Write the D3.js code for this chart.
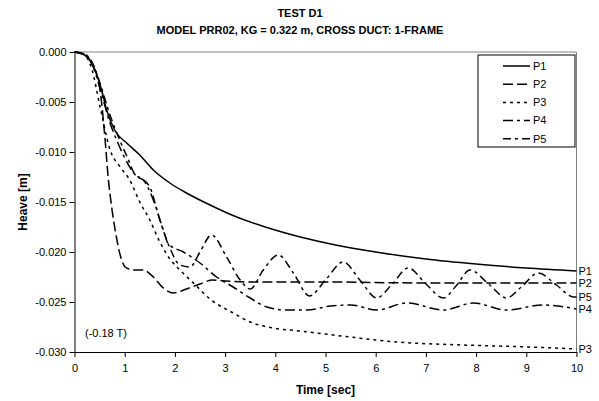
<!DOCTYPE html>
<html><head><meta charset="utf-8">
<script src="https://cdn.jsdelivr.net/npm/d3@7"></script>
<style>
html,body{margin:0;padding:0;background:#fff;}
text{font-family:"Liberation Sans",Arial,sans-serif;fill:#000;}
</style></head>
<body><svg id="c" width="599" height="401"></svg>
<script>
const titleLines = ["TEST D1", "MODEL PRR02, KG = 0.322 m, CROSS DUCT: 1-FRAME"];
const xTitle = "Time [sec]";
const yTitle = "Heave [m]";
const note = "(-0.18 T)";
const xTicks = [0,1,2,3,4,5,6,7,8,9,10];
const xTickLabels = ["0","1","2","3","4","5","6","7","8","9","10"];
const yTicks = [0,-0.005,-0.010,-0.015,-0.020,-0.025,-0.030];
const yTickLabels = ["0.000","-0.005","-0.010","-0.015","-0.020","-0.025","-0.030"];
const seriesNames = ["P1","P2","P3","P4","P5"];

const p1 = [[0,0],[0.2,-0.0003],[0.35,-0.0012],[0.54,-0.0038],[0.64,-0.0058],[0.81,-0.0079],[1.04,-0.0091],[1.3,-0.0103],[1.57,-0.0118],[1.9,-0.0131],[2.23,-0.0141],[2.7,-0.0153],[3.23,-0.0165],[3.8,-0.0175],[4.5,-0.0185],[5.2,-0.0193],[6,-0.0200],[7,-0.0207],[8,-0.0212],[9,-0.0216],[10,-0.0219]];
const p2 = [[0,0],[0.2,-0.0003],[0.35,-0.0012],[0.5,-0.0035],[0.61,-0.0088],[0.67,-0.0125],[0.74,-0.0155],[0.81,-0.0178],[0.91,-0.0203],[1.01,-0.0215],[1.17,-0.0218],[1.37,-0.0218],[1.57,-0.0225],[1.77,-0.0236],[1.97,-0.0241],[2.23,-0.0237],[2.5,-0.0232],[2.75,-0.0228],[3.0,-0.0229],[3.5,-0.0230],[5,-0.0230],[7,-0.0231],[10,-0.0231]];
const p3 = [[0,0],[0.2,-0.0003],[0.35,-0.0018],[0.51,-0.0055],[0.71,-0.0098],[0.91,-0.0115],[1.1,-0.0128],[1.3,-0.0150],[1.5,-0.0168],[1.7,-0.0190],[1.9,-0.0207],[2.1,-0.0218],[2.37,-0.0231],[2.7,-0.0247],[3.16,-0.0261],[3.5,-0.0270],[3.96,-0.0276],[4.49,-0.0279],[4.82,-0.0281],[5.49,-0.0285],[6.42,-0.0290],[7.75,-0.0293],[9.07,-0.0295],[10,-0.0297]];
const p4 = [[0,0],[0.2,-0.0002],[0.35,-0.0012],[0.5,-0.0035],[0.7,-0.0070],[0.9,-0.0095],[1.1,-0.0115],[1.25,-0.0125],[1.37,-0.0128],[1.57,-0.0148],[1.77,-0.0178],[1.87,-0.0192],[2.17,-0.0200],[2.5,-0.0211],[2.83,-0.0225],[3.16,-0.0235],[3.5,-0.0246],[3.83,-0.0255],[4.23,-0.0258],[4.63,-0.0258],[5.1,-0.0254],[5.5,-0.0253],[6.02,-0.0258],[6.62,-0.0251],[7.35,-0.0258],[7.95,-0.0251],[8.6,-0.0258],[9.34,-0.0253],[10,-0.0257]];
const p5 = [[0,0],[0.2,-0.0002],[0.35,-0.0010],[0.5,-0.0030],[0.7,-0.0062],[0.9,-0.0088],[1.05,-0.0105],[1.2,-0.0122],[1.35,-0.0127],[1.5,-0.0135],[1.7,-0.0168],[1.9,-0.0196],[2.1,-0.0213],[2.3,-0.0215],[2.5,-0.0200],[2.73,-0.0183],[3.03,-0.0205],[3.3,-0.0228],[3.5,-0.0237],[3.76,-0.0218],[4.06,-0.0203],[4.36,-0.0221],[4.68,-0.0244],[5.0,-0.0228],[5.35,-0.0210],[5.7,-0.0229],[6.02,-0.0246],[6.33,-0.0232],[6.65,-0.0216],[7.0,-0.0232],[7.35,-0.0246],[7.6,-0.0234],[7.88,-0.0218],[8.25,-0.0232],[8.61,-0.0246],[8.9,-0.0235],[9.24,-0.0221],[9.6,-0.0233],[9.94,-0.0245],[10,-0.0245]];

const seriesData = [p1,p2,p3,p4,p5];
const dashes = [null, "10,4", "3,4", "10,4,3,4", "8,4,3,4"];

const L = 74.5, R = 576.5, T = 52, B = 352;
const svg = d3.select("#c");
const x = d3.scaleLinear().domain([0,10]).range([L,R]);
const y = d3.scaleLinear().domain([-0.03,0]).range([B,T]);

// titles
svg.append("text").attr("x",300).attr("y",17).attr("text-anchor","middle")
  .style("font-size","11px").style("font-weight","bold").text(titleLines[0]);
svg.append("text").attr("x",300).attr("y",34).attr("text-anchor","middle")
  .style("font-size","11px").style("font-weight","bold").text(titleLines[1]);

// plot border (top/right gray)
svg.append("line").attr("x1",L).attr("x2",R).attr("y1",T).attr("y2",T).attr("stroke","#808080").attr("stroke-width",1);
svg.append("line").attr("x1",R).attr("x2",R).attr("y1",T).attr("y2",B).attr("stroke","#808080").attr("stroke-width",1);

// axes
const gy = svg.append("g").attr("transform",`translate(${L},0)`)
  .call(d3.axisLeft(y).tickValues(yTicks).tickFormat((d,i)=>yTickLabels[i]).tickSize(5).tickSizeOuter(0).tickPadding(3));
const gx = svg.append("g").attr("transform",`translate(0,${B})`)
  .call(d3.axisBottom(x).tickValues(xTicks).tickFormat((d,i)=>xTickLabels[i]).tickSize(5).tickSizeOuter(0).tickPadding(7));
[gx,gy].forEach(g=>{
  g.selectAll("text").style("font-size","11px").style("font-family","'Liberation Sans',Arial,sans-serif");
  g.select(".domain").attr("stroke","#000");
  g.selectAll(".tick line").attr("stroke","#000");
});

svg.append("text").attr("x",(L+R)/2).attr("y",394).attr("text-anchor","middle")
  .style("font-size","12px").style("font-weight","bold").text(xTitle);
svg.append("text").attr("transform",`translate(27,${(T+B)/2}) rotate(-90)`).attr("text-anchor","middle")
  .style("font-size","12px").style("font-weight","bold").text(yTitle);

svg.append("text").attr("x",85).attr("y",337).style("font-size","11px").text(note);

// series
const line = d3.line().x(d=>x(d[0])).y(d=>y(d[1])).curve(d3.curveMonotoneX);
seriesData.forEach((s,i)=>{
  svg.append("path").datum(s).attr("d",line).attr("fill","none")
    .attr("stroke","#000").attr("stroke-width",1.5)
    .attr("stroke-dasharray",dashes[i]);
  const last = s[s.length-1];
  svg.append("text").attr("x",R+2).attr("y",y(last[1])).attr("dy","0.35em")
    .style("font-size","11px").text(seriesNames[i]);
});

// legend
const lg = svg.append("g");
lg.append("rect").attr("x",478).attr("y",55).attr("width",97).attr("height",92)
  .attr("fill","#fff").attr("stroke","#000").attr("stroke-width",1);
seriesNames.forEach((n,i)=>{
  const yy = 66 + i*18.2;
  lg.append("line").attr("x1",503).attr("x2",530).attr("y1",yy).attr("y2",yy)
    .attr("stroke","#000").attr("stroke-width",1.5).attr("stroke-dasharray",dashes[i]);
  lg.append("text").attr("x",533).attr("y",yy).attr("dy","0.35em").style("font-size","11px").text(n);
});
</script></body></html>
